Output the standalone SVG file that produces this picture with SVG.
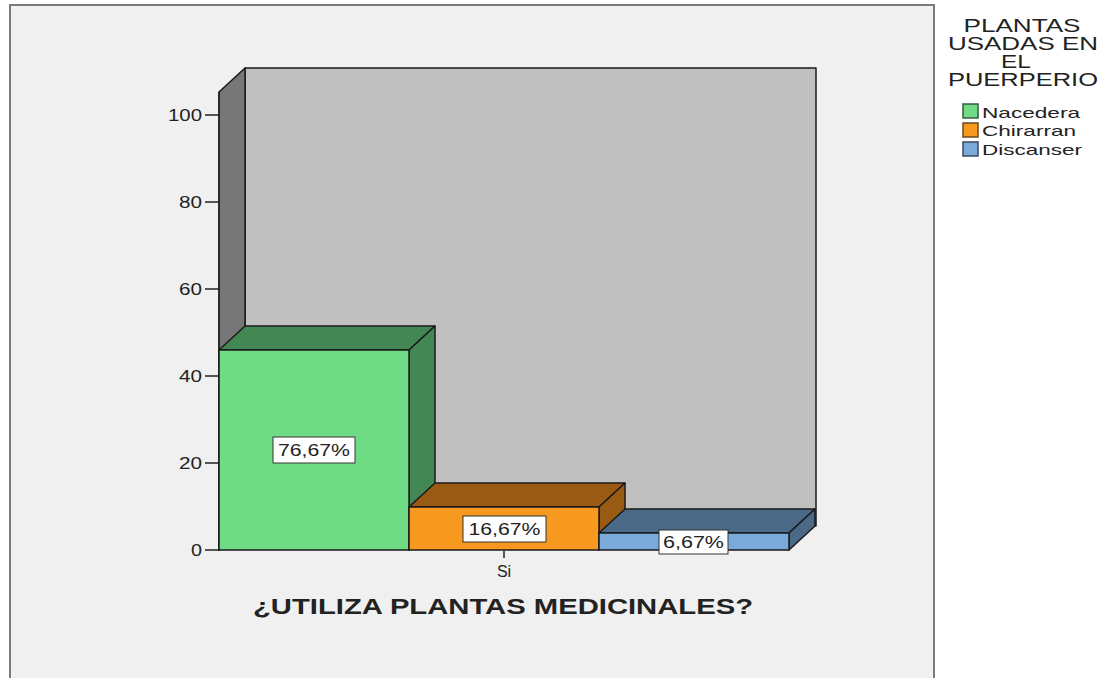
<svg xmlns="http://www.w3.org/2000/svg" width="1104" height="678" viewBox="0 0 1104 678">
<style>
.t{font-family:"Liberation Sans",Arial,sans-serif;fill:#222}
.ax{font-size:16px}
.lbl{font-size:16px;text-anchor:middle}
.edge{stroke:#1a1a1a;stroke-width:1.5;stroke-linejoin:round}
.box{fill:#fff;stroke:#333;stroke-width:1}
.tick{stroke:#222;stroke-width:1.5}
</style>
<rect x="0" y="0" width="1104" height="678" fill="#fff"/>
<g id="frame">
<rect x="10" y="5" width="924" height="690" fill="#f0f0f0" stroke="#7a7a7a" stroke-width="2"/>
</g>
<g id="walls">
<polygon points="245,68 816,68 816,526 245,526" fill="#c0c0c0" class="edge"/>
<polygon points="219,92 245,68 245,526 219,550" fill="#777777" class="edge"/>
</g>
<g id="axis">
<line x1="219" y1="92" x2="219" y2="551" class="tick"/>
<line x1="205" y1="115" x2="219" y2="115" class="tick"/>
<line x1="205" y1="202" x2="219" y2="202" class="tick"/>
<line x1="205" y1="289" x2="219" y2="289" class="tick"/>
<line x1="205" y1="376" x2="219" y2="376" class="tick"/>
<line x1="205" y1="463" x2="219" y2="463" class="tick"/>
<line x1="205" y1="550" x2="219" y2="550" class="tick"/>
<text class="t ax" x="202" y="121" text-anchor="end" textLength="34" lengthAdjust="spacingAndGlyphs">100</text>
<text class="t ax" x="202" y="208" text-anchor="end" textLength="23" lengthAdjust="spacingAndGlyphs">80</text>
<text class="t ax" x="202" y="295" text-anchor="end" textLength="23" lengthAdjust="spacingAndGlyphs">60</text>
<text class="t ax" x="202" y="382" text-anchor="end" textLength="23" lengthAdjust="spacingAndGlyphs">40</text>
<text class="t ax" x="202" y="469" text-anchor="end" textLength="23" lengthAdjust="spacingAndGlyphs">20</text>
<text class="t ax" x="202" y="556" text-anchor="end" textLength="11" lengthAdjust="spacingAndGlyphs">0</text>
<line x1="504" y1="551" x2="504" y2="558" class="tick"/>
<text class="t" x="504" y="577" font-size="16" text-anchor="middle">Si</text>
<text class="t" x="503" y="614" font-size="22" font-weight="bold" text-anchor="middle" fill="#111" textLength="500" lengthAdjust="spacingAndGlyphs">¿UTILIZA PLANTAS MEDICINALES?</text>
</g>
<g id="bar-nacedera">
<polygon points="219,350 245,326 435,326 409,350" fill="#428754" class="edge"/>
<polygon points="409,350 435,326 435,526 409,550" fill="#428754" class="edge"/>
<rect x="219" y="350" width="190" height="200" fill="#6fdc85" class="edge"/>
<rect x="273" y="437" width="82" height="26" class="box"/>
<text class="t lbl" x="314" y="456" textLength="72" lengthAdjust="spacingAndGlyphs">76,67%</text>
</g>
<g id="bar-chirarran">
<polygon points="409,507 435,483 625,483 599,507" fill="#995a14" class="edge"/>
<polygon points="599,507 625,483 625,526 599,550" fill="#995a14" class="edge"/>
<rect x="409" y="507" width="190" height="43" fill="#f7981f" class="edge"/>
<rect x="463" y="516" width="83" height="26" class="box"/>
<text class="t lbl" x="504.5" y="535" textLength="72" lengthAdjust="spacingAndGlyphs">16,67%</text>
</g>
<g id="bar-discanser">
<polygon points="599,533 625,509 815,509 789,533" fill="#4a6987" class="edge"/>
<polygon points="789,533 815,509 815,526 789,550" fill="#4a6987" class="edge"/>
<rect x="599" y="533" width="190" height="17" fill="#7aaad9" class="edge"/>
<rect x="659" y="530" width="69" height="24" class="box"/>
<text class="t lbl" x="693.5" y="548" textLength="61" lengthAdjust="spacingAndGlyphs">6,67%</text>
</g>
<g id="legend">
<text class="t" font-size="18" text-anchor="middle" x="1022" y="32" textLength="117" lengthAdjust="spacingAndGlyphs">PLANTAS</text>
<text class="t" font-size="18" text-anchor="middle" x="1023" y="50" textLength="150" lengthAdjust="spacingAndGlyphs">USADAS EN</text>
<text class="t" font-size="18" text-anchor="middle" x="1016" y="68" textLength="30" lengthAdjust="spacingAndGlyphs">EL</text>
<text class="t" font-size="18" text-anchor="middle" x="1023" y="86" textLength="150" lengthAdjust="spacingAndGlyphs">PUERPERIO</text>
<rect x="963" y="104" width="15" height="14" fill="#6fdc85" stroke="#3a5a40" stroke-width="1.5"/>
<rect x="963" y="123" width="15" height="14" fill="#f7981f" stroke="#6a4a20" stroke-width="1.5"/>
<rect x="963" y="142" width="15" height="14" fill="#7aaad9" stroke="#3a4a60" stroke-width="1.5"/>
<text class="t" font-size="15" x="982" y="118" textLength="98" lengthAdjust="spacingAndGlyphs">Nacedera</text>
<text class="t" font-size="15" x="982" y="136" textLength="94" lengthAdjust="spacingAndGlyphs">Chirarran</text>
<text class="t" font-size="15" x="982" y="155" textLength="100" lengthAdjust="spacingAndGlyphs">Discanser</text>
</g>
</svg>
